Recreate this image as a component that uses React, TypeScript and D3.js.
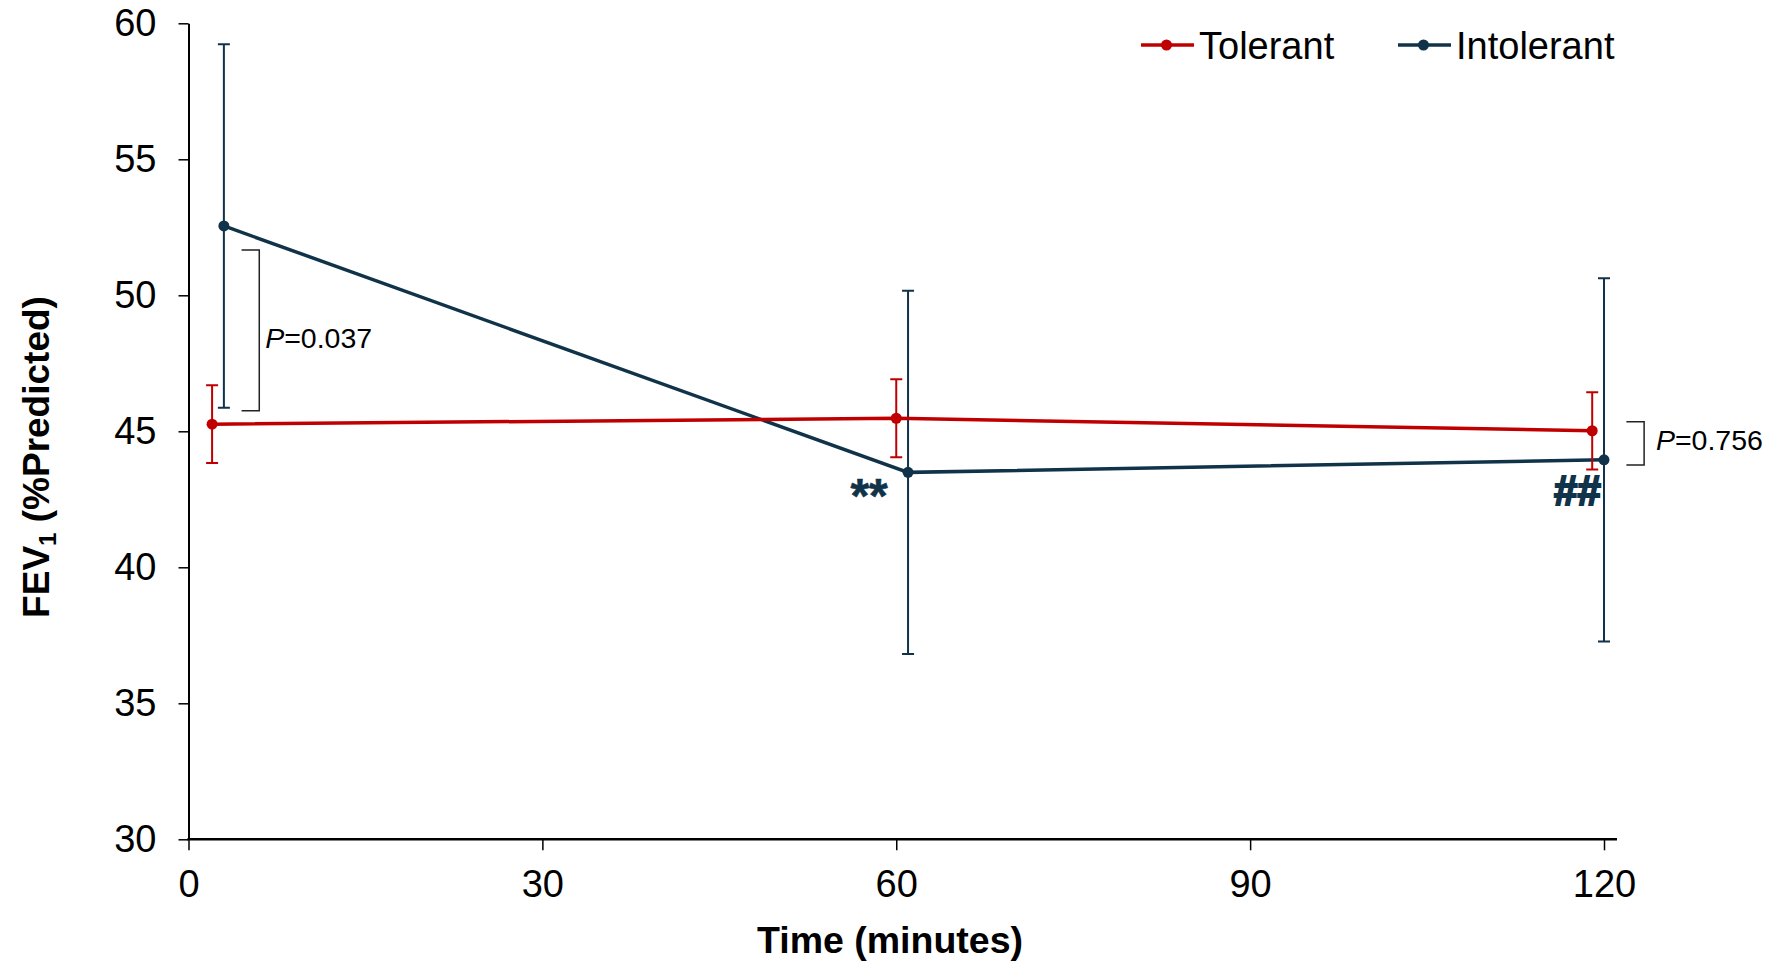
import * as d3 from 'd3';
import { useEffect, useRef } from 'react';

// Time points are jittered slightly so the two groups don't overlap
const tolerantTime = [2, 60, 119];
const tolerantMean = [45.26, 45.48, 45.02];
const tolerantSE = [1.43, 1.43, 1.42];

const intolerantTime = [3, 61, 120];
const intolerantMean = [52.55, 43.49, 43.95];
const intolerantSE = [6.68, 6.68, 6.68];

const xTicks = [0, 30, 60, 90, 120];
const yTicks = [30, 35, 40, 45, 50, 55, 60];

// significance brackets: [t0, t1, vTop, vBottom]
const bracketLabels = ['P=0.037', 'P=0.756'];
const bracketSpans = [
  [4.5, 6.0, 51.67, 45.76],
  [121.9, 123.4, 45.35, 43.76],
];
const bracketTextAt = [
  [6.5, 48.43],
  [124.4, 44.68],
];

const markLabels = ['**', '##'];
const markAt = [
  [57.7, 42.99],
  [117.75, 42.84],
];

const RED = '#C00000';
const NAVY = '#10334A';
const FONT = '"Liberation Sans", Arial, sans-serif';

interface Pt {
  t: number;
  v: number;
  se: number;
}

const App = () => {
  const svgRef = useRef<SVGSVGElement>(null);

  useEffect(() => {
    if (!svgRef.current) return;
    const svg = d3.select(svgRef.current);
    svg.selectAll('*').remove();

    const x = d3.scaleLinear().domain([0, 120]).range([188.5, 1604]);
    const y = d3.scaleLinear().domain([30, 60]).range([839.3, 23.3]);

    const g = svg.append('g').attr('font-family', FONT);

    // y axis
    g.append('g')
      .attr('transform', `translate(${x(0)},0)`)
      .call(d3.axisLeft(y).tickValues(yTicks).tickSize(10).tickPadding(22).tickSizeOuter(0))
      .call((a) => a.select('.domain').attr('stroke', '#000').attr('stroke-width', 2))
      .call((a) => a.selectAll('.tick line').attr('stroke', '#000').attr('stroke-width', 1.5))
      .call((a) =>
        a.selectAll('.tick text').attr('fill', '#000').attr('font-size', 38).attr('font-family', FONT),
      );

    // x axis
    g.append('g')
      .attr('transform', `translate(0,${y(30)})`)
      .call(d3.axisBottom(x).tickValues(xTicks).tickSize(11).tickPadding(20).tickSizeOuter(0))
      .call((a) => a.select('.domain').remove())
      .call((a) => a.selectAll('.tick line').attr('stroke', '#000').attr('stroke-width', 1.5))
      .call((a) =>
        a.selectAll('.tick text').attr('fill', '#000').attr('font-size', 38).attr('font-family', FONT),
      );
    g.append('line')
      .attr('x1', x(0) - 1)
      .attr('x2', x(121.1))
      .attr('y1', y(30))
      .attr('y2', y(30))
      .attr('stroke', '#000')
      .attr('stroke-width', 2.5);

    // axis titles
    g.append('text')
      .attr('x', 890)
      .attr('y', 953)
      .attr('text-anchor', 'middle')
      .attr('font-size', 37.5)
      .attr('font-weight', 'bold')
      .text('Time (minutes)');

    const yt = g
      .append('text')
      .attr('transform', 'translate(49,457) rotate(-90)')
      .attr('text-anchor', 'middle')
      .attr('font-size', 37)
      .attr('font-weight', 'bold');
    yt.append('tspan').text('FEV');
    yt.append('tspan').attr('font-size', 24).attr('dy', 7).text('1');
    yt.append('tspan').attr('dy', -7).text(' (%Predicted)');

    const series = [
      {
        color: RED,
        pts: tolerantTime.map((t, i) => ({ t, v: tolerantMean[i], se: tolerantSE[i] })),
      },
      {
        color: NAVY,
        pts: intolerantTime.map((t, i) => ({ t, v: intolerantMean[i], se: intolerantSE[i] })),
      },
    ].reverse();

    const line = d3
      .line<Pt>()
      .x((d) => x(d.t))
      .y((d) => y(d.v));

    series.forEach((s) => {
      const sg = g.append('g');
      // error bars
      sg.selectAll('.eb')
        .data(s.pts)
        .join('path')
        .attr('fill', 'none')
        .attr('stroke', s.color)
        .attr('stroke-width', 2)
        .attr('d', (d) => {
          const cx = x(d.t);
          const t = y(d.v + d.se);
          const b = y(d.v - d.se);
          return `M${cx - 6},${t}H${cx + 6}M${cx},${t}V${b}M${cx - 6},${b}H${cx + 6}`;
        });
      sg.append('path')
        .datum(s.pts)
        .attr('fill', 'none')
        .attr('stroke', s.color)
        .attr('stroke-width', 3.5)
        .attr('d', line);
      sg.selectAll('circle')
        .data(s.pts)
        .join('circle')
        .attr('cx', (d) => x(d.t))
        .attr('cy', (d) => y(d.v))
        .attr('r', 5.5)
        .attr('fill', s.color);
    });

    // brackets
    bracketSpans.forEach(([t0, t1, vt, vb], i) => {
      g.append('path')
        .attr('fill', 'none')
        .attr('stroke', '#222')
        .attr('stroke-width', 1.5)
        .attr('d', `M${x(t0)},${y(vt)}H${x(t1)}V${y(vb)}H${x(t0)}`);
      const [tt, tv] = bracketTextAt[i];
      const txt = g
        .append('text')
        .attr('x', x(tt))
        .attr('y', y(tv) + 10)
        .attr('font-size', 28.5)
        .attr('fill', '#000');
      const [p, rest] = bracketLabels[i].split('=');
      txt.append('tspan').attr('font-style', 'italic').text(p);
      txt.append('tspan').text('=' + rest);
    });

    // significance marks
    markLabels.forEach((m, i) => {
      const [tt, tv] = markAt[i];
      const fs = m === '**' ? 48 : 42;
      const off = m === '**' ? 0.55 * fs : 0.35 * fs;
      g.append('text')
        .attr('x', x(tt))
        .attr('y', y(tv) + off)
        .attr('text-anchor', 'middle')
        .attr('font-size', fs)
        .attr('font-weight', 'bold')
        .attr('fill', NAVY)
        .attr('stroke', NAVY)
        .attr('stroke-width', m === '##' ? 2 : 0.6)
        .text(m);
    });

    // legend
    const legend = [
      { name: 'Tolerant', color: RED, x0: 1141 },
      { name: 'Intolerant', color: NAVY, x0: 1398 },
    ];
    legend.forEach((l) => {
      const lg = g.append('g').attr('transform', `translate(${l.x0},45)`);
      lg.append('line')
        .attr('x1', 0)
        .attr('x2', 53)
        .attr('stroke', l.color)
        .attr('stroke-width', 3.5);
      lg.append('circle').attr('cx', 25.5).attr('r', 5.5).attr('fill', l.color);
      lg.append('text')
        .attr('x', 58)
        .attr('y', 13.5)
        .attr('font-size', 38)
        .attr('fill', '#000')
        .text(l.name);
    });
  }, []);

  return (
    <svg
      ref={svgRef}
      width={1780}
      height={963}
      style={{ position: 'absolute', left: 0, top: 0, background: '#fff' }}
    />
  );
};

export default App;
